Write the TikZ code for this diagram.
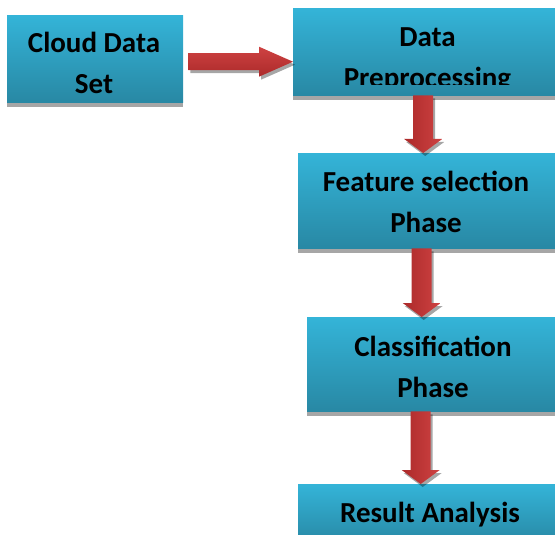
\documentclass[tikz,border=0pt]{standalone}
\usepackage{fontspec}
\setmainfont{Carlito}
\usetikzlibrary{calc,shadows}

\definecolor{boxtop}{RGB}{52,180,216}
\definecolor{boxbot}{RGB}{40,136,164}
\definecolor{shadowgray}{RGB}{166,166,166}
\definecolor{arrowlight}{RGB}{206,66,66}
\definecolor{arrowdark}{RGB}{172,42,42}

% block arrow pointing down, from a start point to a tip point
\newcommand{\downflow}[3]{%
  \path[#1] ($(#2)+(-10,0)$) -- ($(#3)+(-10,-14)$) -- ($(#3)+(-19,-14)$) -- (#3)
    -- ($(#3)+(19,-14)$) -- ($(#3)+(10,-14)$) -- ($(#2)+(10,0)$) -- cycle;}
% block arrow pointing right
\newcommand{\rightflow}[3]{%
  \path[#1] ($(#2)+(0,-8.5)$) -- ($(#3)+(-34,-8.5)$) -- ($(#3)+(-34,-15)$) -- (#3)
    -- ($(#3)+(-34,15)$) -- ($(#3)+(-34,8.5)$) -- ($(#2)+(0,8.5)$) -- cycle;}

\begin{document}
\begin{tikzpicture}[x=1pt,y=-1pt,
  stage/.style={rectangle, anchor=north west, inner sep=0pt, draw=none,
    top color=boxtop, bottom color=boxbot,
    general shadow={fill=shadowgray, shadow yshift=-5pt}},
  lbl/.style={font=\fontsize{29}{41}\selectfont\bfseries, align=center,
    inner sep=0pt, anchor=base},
  flowshade/.style={fill=black, opacity=0.35,
    transform canvas={xshift=2pt, yshift=-3pt}},
  vflow/.style={left color=arrowdark, right color=arrowlight},
  hflow/.style={top color=arrowlight, bottom color=arrowdark}]

\useasboundingbox (0,0) rectangle (555,535);
\clip (0,0) rectangle (555,535);

% process boxes
\node[stage, minimum width=176pt, minimum height=87pt] (b1) at (7,15) {};
\node[stage, minimum width=262pt, minimum height=87pt] (b2) at (293,8) {};
\node[stage, minimum width=257pt, minimum height=95pt] (b3) at (298,153) {};
\node[stage, minimum width=248pt, minimum height=94pt] (b4) at (307,317) {};
\node[stage, minimum width=257pt, minimum height=60pt] (b5) at (298,484) {};

% box captions (anchored at the baseline of their last line)
\node[lbl] (t1) at (94,94) {Cloud Data\\Set};
\begin{scope}
  \clip (293,8) rectangle (555,85);
  \node[lbl] (t2) at (427.5,88) {Data\\Preprocessing};
\end{scope}
\node[lbl] (t3) at (426,232) {Feature selection\\Phase};
\node[lbl] (t4) at (433,397) {Classification\\Phase};
\node[lbl] (t5) at (430,522) {Result Analysis};

% arrow anchor points
\coordinate (h1s) at ($(b1.east)+(5,3)$);
\coordinate (h1t) at (h1s -| b2.west);
\coordinate (a1s) at ($(b2.south)+(-1,0)$);
\coordinate (a1t) at (a1s |- b3.north);
\coordinate (a2s) at ($(b3.south)+(-5,0)$);
\coordinate (a2t) at (a2s |- b4.north);
\coordinate (a3s) at ($(b4.south)+(-10.5,0)$);
\coordinate (a3t) at (a3s |- b5.north);

% block arrows with their shadows
\rightflow{flowshade}{h1s}{h1t}
\rightflow{hflow}{h1s}{h1t}
\downflow{flowshade}{a1s}{a1t}
\downflow{vflow}{a1s}{a1t}
\downflow{flowshade}{a2s}{a2t}
\downflow{vflow}{a2s}{a2t}
\downflow{flowshade}{a3s}{a3t}
\downflow{vflow}{a3s}{a3t}
\end{tikzpicture}
\end{document}
